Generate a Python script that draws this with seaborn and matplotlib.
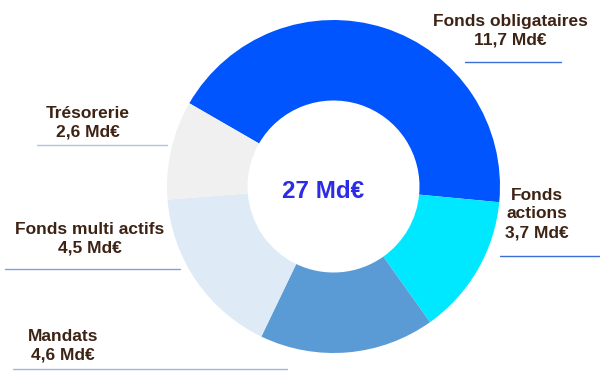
import matplotlib
matplotlib.use("Agg")
import matplotlib.pyplot as plt
import seaborn as sb

# encours par classe d'actifs (Md€)
categories = ['Fonds obligataires', 'Fonds actions', 'Mandats', 'Fonds multi actifs', 'Trésorerie']
values = [11.7, 3.7, 4.6, 4.5, 2.6]
value_labels = ['11,7 Md€', '3,7 Md€', '4,6 Md€', '4,5 Md€', '2,6 Md€']
total_label = '27 Md€'
colors = ['#0055FF', '#00E8FF', '#5B9BD5', '#DEEAF6', '#F0F0F0']

sb.set_theme(style='white')
plt.rcParams['font.family'] = ['Liberation Sans', 'DejaVu Sans']

fig = plt.figure(figsize=(6, 3.84), dpi=100)
ax = fig.add_axes([0, 0, 1, 1])
H = 384

ax.pie(values, colors=colors, startangle=150, counterclock=False,
       center=(333.5, H - 186.5), radius=166.5,
       wedgeprops=dict(width=80.5, linewidth=0), frame=True)
ax.set_xlim(0, 600)
ax.set_ylim(0, H)
ax.set_aspect('equal')
ax.axis('off')

ax.text(323, H - 192, total_label, ha='center', va='center',
        fontsize=17.5, fontweight='bold', color='#2B2BE8')

txt = '#3D2314'
fs = 12.5
# (text, x, y, ha, underline x0, x1, y, colour)
labels = [
    (categories[0] + '\n' + value_labels[0], 510, 31, 'center', 465, 561, 62, '#3B6FD4'),
    ('Fonds\nactions\n' + value_labels[1], 537, 214, 'center', 500, 600, 256, '#3B6FD4'),
    (categories[2] + '\n' + value_labels[2], 28, 346, 'left', 13, 287, 369, '#9DB8E6'),
    (categories[3] + '\n' + value_labels[3], 90, 239, 'center', 5, 180, 269, '#7FA3DE'),
    (categories[4] + '\n' + value_labels[4], 88, 123, 'center', 37, 167, 145, '#A9C4EA'),
]
for s, x, y, ha, x0, x1, yl, lc in labels:
    ax.text(x, H - y, s, ha=ha, va='center', fontsize=fs, fontweight='bold',
            color=txt, linespacing=1.32, multialignment='center')
    ax.plot([x0, x1], [H - yl, H - yl], color=lc, lw=1)

fig.savefig('out.png', dpi=100)
